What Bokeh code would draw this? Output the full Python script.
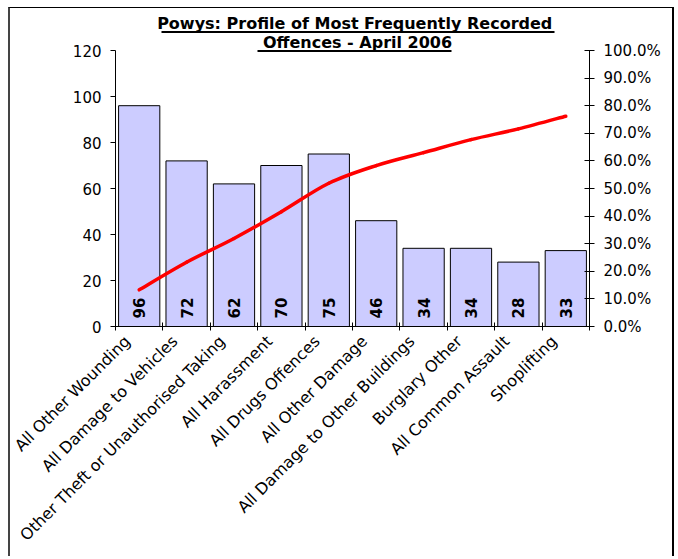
import math
from bokeh.plotting import figure
from bokeh.models import Range1d, LinearAxis, FixedTicker, ColumnDataSource
from bokeh.core.properties import value
from bokeh.embed import file_html
from bokeh.resources import INLINE

# ---- data ----
categories = ["All Other Wounding", "All Damage to Vehicles",
              "Other Theft or Unauthorised Taking", "All Harassment",
              "All Drugs Offences", "All Other Damage",
              "All Damage to Other Buildings", "Burglary Other",
              "All Common Assault", "Shoplifting"]
counts = [96, 72, 62, 70, 75, 46, 34, 34, 28, 33]
cumulative_pct = [13.3, 23.3, 31.9, 41.6, 51.9, 58.3, 63.0, 67.7, 71.6, 76.2]
left_ticks = [0, 20, 40, 60, 80, 100, 120]
right_ticks = [0, 10, 20, 30, 40, 50, 60, 70, 80, 90, 100]
title_lines = ["Powys: Profile of Most Frequently Recorded ", "Offences - April 2006"]

FONT = "DejaVu Sans"

# ---- layout (pixels) ----
CANVAS_W, CANVAS_H = 666, 549
FRAME_W, FRAME_H = 474, 318      # frame extends to top of canvas (title lives inside)
AXIS_H = 276                     # pixel height of the 0..120 value axis
LEFT_MAX = left_ticks[-1]
RIGHT_MAX = right_ticks[-1]
LABEL_SHIFT = 0.25               # category labels sit a little left of bar centres

xs = list(range(1, len(categories) + 1))
src = ColumnDataSource(dict(x=xs, count=counts, cum=cumulative_pct,
                            lbl=[str(c) for c in counts]))

p = figure(width=CANVAS_W, height=CANVAS_H, output_backend="svg", toolbar_location=None,
           x_range=Range1d(0.5, len(categories) + 0.5),
           y_range=Range1d(0, LEFT_MAX * FRAME_H / AXIS_H),
           min_border_left=105, min_border_right=CANVAS_W - 105 - FRAME_W, min_border_top=0,
           min_border_bottom=CANVAS_H - FRAME_H)
p.styles = {"border-left": "2px solid #444", "border-top": "1px solid #000",
            "border-right": "2px solid #000", "margin-left": "8px", "margin-top": "7px"}
p.extra_y_ranges = {"pct": Range1d(0, RIGHT_MAX * FRAME_H / AXIS_H),
                    "px": Range1d(0, FRAME_H)}
p.extra_x_ranges = {"px": Range1d(0, FRAME_W),
                    "lbl": Range1d(0.5 + LABEL_SHIFT, len(categories) + 0.5 + LABEL_SHIFT)}
p.outline_line_color = None
p.xgrid.grid_line_color = None
p.ygrid.grid_line_color = None
p.background_fill_color = "white"
p.border_fill_color = "white"

# left axis
ya = p.yaxis[0]
ya.ticker = FixedTicker(ticks=left_ticks)
ya.bounds = (0, LEFT_MAX)
ya.major_tick_in = 0
ya.major_tick_out = 5
ya.minor_tick_line_color = None
ya.major_label_standoff = 9
ya.axis_line_color = "black"
ya.major_tick_line_color = "black"
ya.major_label_text_font = FONT
ya.major_label_text_font_size = "15px"
ya.major_label_text_color = "black"

# right axis
ra = LinearAxis(y_range_name="pct",
                ticker=FixedTicker(ticks=right_ticks),
                major_label_overrides={t: f"{t:.1f}%" for t in right_ticks})
ra.bounds = (0, RIGHT_MAX)
ra.major_tick_in = 5
ra.major_tick_out = 5
ra.minor_tick_line_color = None
ra.major_label_standoff = 9
ra.axis_line_color = "black"
ra.major_tick_line_color = "black"
ra.major_label_text_font = FONT
ra.major_label_text_font_size = "15px"
ra.major_label_text_color = "black"
p.add_layout(ra, "right")

# x axis line with category-boundary tick marks (no labels)
xa = p.xaxis[0]
xa.ticker = FixedTicker(ticks=[], minor_ticks=[x - 0.5 for x in xs] + [xs[-1] + 0.5])
xa.major_tick_line_color = None
xa.major_tick_in = 0
xa.major_tick_out = 0
xa.minor_tick_line_color = "black"
xa.minor_tick_in = 4
xa.minor_tick_out = 4
xa.axis_line_color = "black"

# category labels (second, line-less axis)
la = LinearAxis(x_range_name="lbl", ticker=FixedTicker(ticks=xs),
                major_label_overrides={x: c for x, c in zip(xs, categories)})
la.axis_line_color = None
la.major_tick_line_color = None
la.minor_tick_line_color = None
la.major_tick_in = 0
la.major_tick_out = 0
la.minor_tick_in = 0
la.minor_tick_out = 0
la.major_label_orientation = math.pi / 4
la.major_label_text_font = FONT
la.major_label_text_font_size = "16px"
la.major_label_text_color = "black"
la.major_label_standoff = 8
p.add_layout(la, "below")

# bars
p.vbar(x="x", top="count", width=0.87, source=src, fill_color="#CCCCFF",
       line_color="black", line_width=1)

# cumulative line, drawn smoothed (Catmull-Rom style Bezier through the data points)
n = len(xs)
def pt(i):
    i = max(0, min(n - 1, i))
    return xs[i], cumulative_pct[i]
bz = dict(x0=[], y0=[], x1=[], y1=[], cx0=[], cy0=[], cx1=[], cy1=[])
for i in range(n - 1):
    (xa0, ya0), (xb, yb) = pt(i), pt(i + 1)
    (xp, yp), (xn, yn) = pt(i - 1), pt(i + 2)
    bz["x0"].append(xa0); bz["y0"].append(ya0)
    bz["x1"].append(xb); bz["y1"].append(yb)
    bz["cx0"].append(xa0 + (xb - xp) / 6); bz["cy0"].append(ya0 + (yb - yp) / 6)
    bz["cx1"].append(xb - (xn - xa0) / 6); bz["cy1"].append(yb - (yn - ya0) / 6)
p.bezier(source=ColumnDataSource(bz), x0="x0", y0="y0", x1="x1", y1="y1",
         cx0="cx0", cy0="cy0", cx1="cx1", cy1="cy1", y_range_name="pct",
         line_color="#FF0000", line_width=3.5, line_cap="round")

# value labels
p.text(x="x", y=0, text="lbl", source=src, angle=math.pi / 2, text_align="left",
       text_baseline="middle", y_offset=-8, text_font=value(FONT),
       text_font_size="15px", text_font_style="bold", text_color="black")

# title (inside the upper, axis-free part of the frame), underlined
title_src = ColumnDataSource(dict(x=[242, 242], y=[303, 284], text=title_lines))
p.text(x="x", y="y", text="text", source=title_src, x_range_name="px", y_range_name="px",
       text_align="center", text_baseline="alphabetic", text_font=value(FONT),
       text_font_size="16px", text_font_style="bold", text_color="black")
p.segment(x0=[46, 142], x1=[439, 336], y0=[294.5, 275.5], y1=[294.5, 275.5],
          x_range_name="px", y_range_name="px", line_color="black", line_width=2)

open("out.html", "w").write(file_html(p, INLINE))
